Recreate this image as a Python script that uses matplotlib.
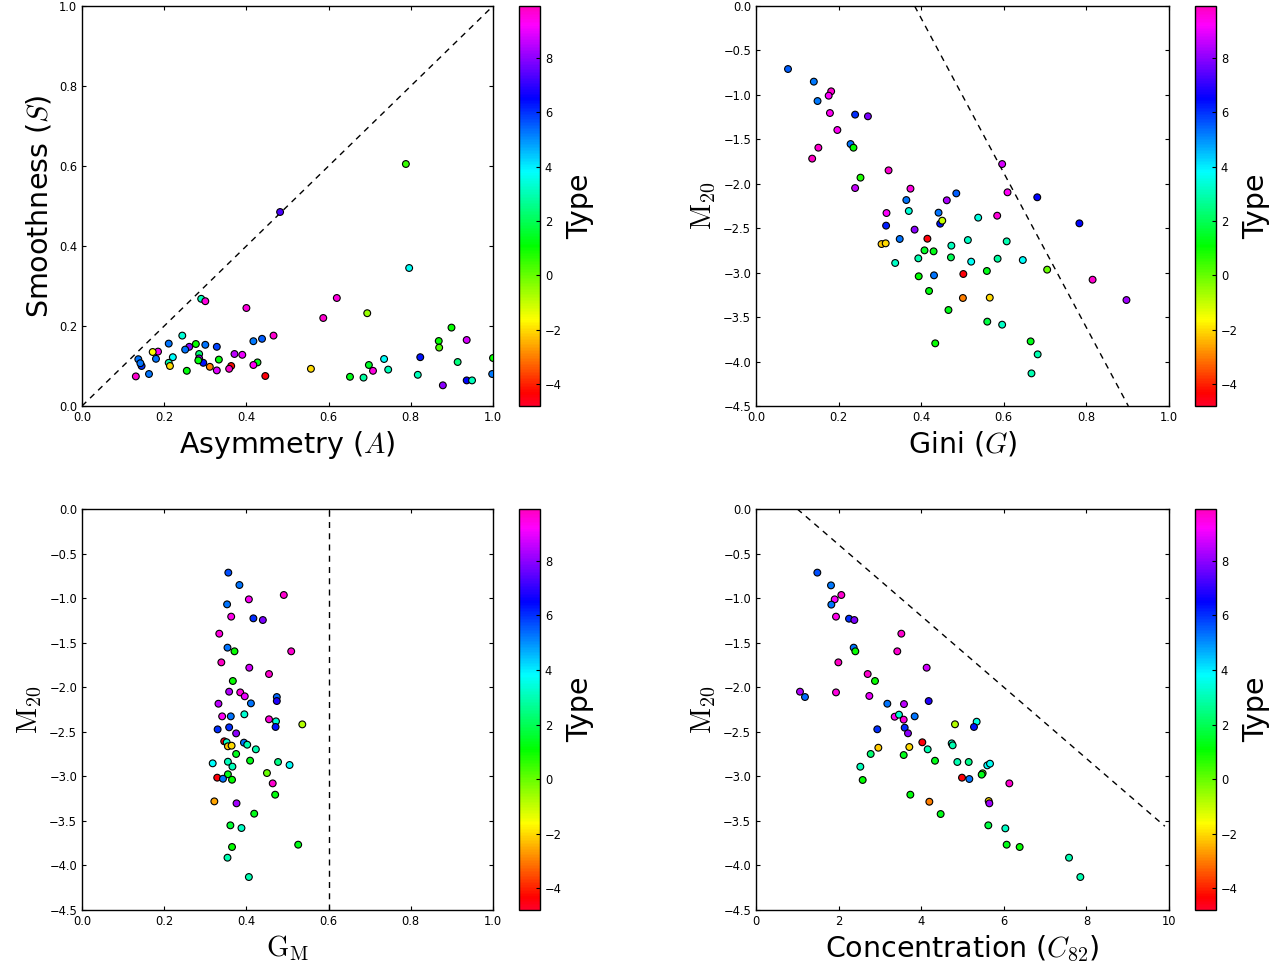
import matplotlib
matplotlib.use('Agg')
from matplotlib import pyplot as plt
import numpy

plt.rcParams['mathtext.fontset'] = 'cm'
plt.rcParams['xtick.direction'] = 'in'
plt.rcParams['ytick.direction'] = 'in'
plt.rcParams['xtick.top'] = True
plt.rcParams['ytick.right'] = True
plt.rcParams['xtick.major.size'] = 3.2
plt.rcParams['ytick.major.size'] = 3.2
plt.rcParams['xtick.labelsize'] = 8.3
plt.rcParams['ytick.labelsize'] = 8.3
plt.rcParams['axes.linewidth'] = 1.0

# asymmetry / smoothness
asym = [0.29, 0.30, 0.40, 0.62, 0.587, 0.694, 0.899, 0.868, 0.869, 0.936,
        1.0, 0.914, 0.823, 0.817, 0.878, 0.936, 0.949, 0.998, 0.735, 0.745,
        0.698, 0.708, 0.685, 0.652, 0.557, 0.466, 0.438, 0.417, 0.427, 0.417,
        0.446, 0.39, 0.371, 0.363, 0.358, 0.328, 0.333, 0.328, 0.311, 0.30,
        0.295, 0.285, 0.285, 0.283, 0.277, 0.261, 0.251, 0.244, 0.255, 0.221,
        0.211, 0.214, 0.211, 0.185, 0.172, 0.18, 0.163, 0.137, 0.145, 0.142,
        0.131, 0.788, 0.796, 0.482]
smooth = [0.268, 0.262, 0.245, 0.27, 0.22, 0.232, 0.196, 0.1625, 0.146, 0.165,
          0.12, 0.11, 0.122, 0.078, 0.0517, 0.064, 0.064, 0.08, 0.1175, 0.091,
          0.1025, 0.088, 0.071, 0.073, 0.093, 0.176, 0.168, 0.162, 0.109, 0.1025,
          0.075, 0.128, 0.13, 0.10, 0.093, 0.148, 0.116, 0.089, 0.098, 0.153,
          0.108, 0.13, 0.119, 0.114, 0.155, 0.148, 0.141, 0.176, 0.088, 0.122,
          0.108, 0.10, 0.156, 0.136, 0.135, 0.118, 0.08, 0.117, 0.10, 0.107,
          0.074, 0.605, 0.345, 0.485]
type_as = [3.1, 9.5, 9.5, 9.5, 9.7, -0.5, 1.0, 1.0, 0.3, 8.8,
           1.0, 2.4, 6.3, 3.1, 8.0, 6.5, 3.1, 5.2, 3.8, 3.1,
           1.5, 9.5, 2.8, 1.3, -2.0, 9.7, 5.5, 5.2, 1.3, 9.3,
           -4.4, 9.0, 8.5, -4.2, 9.7, 5.8, 1.2, 8.9, -3.0, 5.3,
           6.3, 2.3, 8.2, 1.2, 1.0, 8.0, 5.3, 3.4, 1.2, 3.8,
           3.0, -2.0, 5.3, 9.3, -1.6, 5.3, 5.3, 5.3, 6.0, 5.3,
           9.7, 0.5, 3.7, 7.3]

# gini / M20
gini = [0.0775, 0.140, 0.149, 0.182, 0.176, 0.179, 0.240, 0.271, 0.197, 0.229,
        0.236, 0.151, 0.136, 0.321, 0.253, 0.240, 0.374, 0.364, 0.485, 0.462,
        0.596, 0.609, 0.681, 0.783, 0.370, 0.316, 0.442, 0.446, 0.451, 0.584,
        0.538, 0.315, 0.384, 0.415, 0.348, 0.304, 0.314, 0.513, 0.607, 0.473,
        0.408, 0.430, 0.337, 0.393, 0.472, 0.521, 0.585, 0.646, 0.705, 0.559,
        0.502, 0.431, 0.394, 0.815, 0.419, 0.501, 0.566, 0.897, 0.466, 0.560,
        0.596, 0.434, 0.665, 0.682, 0.667]
m20_g = [-0.709, -0.851, -1.069, -0.96, -1.009, -1.204, -1.222, -1.241, -1.395, -1.553,
         -1.594, -1.594, -1.717, -1.849, -1.931, -2.048, -2.055, -2.183, -2.108, -2.186,
         -1.778, -2.096, -2.152, -2.445, -2.306, -2.329, -2.325, -2.449, -2.415, -2.359,
         -2.381, -2.471, -2.516, -2.618, -2.621, -2.678, -2.67, -2.633, -2.648, -2.696,
         -2.749, -2.760, -2.891, -2.839, -2.828, -2.876, -2.843, -2.858, -2.966, -2.981,
         -3.015, -3.03, -3.041, -3.079, -3.206, -3.285, -3.281, -3.308, -3.42, -3.551,
         -3.585, -3.795, -3.773, -3.919, -4.133]
type_g = [5.5, 5.2, 5.2, 9.7, 9.2, 9.3, 6.0, 7.8, 9.3, 5.3,
          1.0, 9.7, 9.8, 9.7, 0.8, 8.6, 9.5, 5.3, 5.5, 8.3,
          8.8, 9.3, 6.5, 6.5, 3.4, 9.2, 5.3, 6.3, -1.0, 9.6,
          3.5, 6.2, 8.0, -4.4, 5.3, -2.2, -2.0, 3.2, 3.0, 3.1,
          1.5, 1.3, 3.2, 3.0, 2.0, 3.7, 2.8, 3.8, 0.0, 1.3,
          -4.4, 5.3, 1.1, 9.7, 1.2, -3.0, -2.0, 8.2, 1.3, 1.8,
          3.2, 1.0, 1.3, 3.0, 3.0]

# G_M / M20
gm = [0.356, 0.383, 0.491, 0.406, 0.353, 0.363, 0.417, 0.44, 0.334, 0.354,
      0.371, 0.509, 0.339, 0.407, 0.455, 0.367, 0.358, 0.385, 0.396, 0.474,
      0.474, 0.332, 0.411, 0.341, 0.362, 0.395, 0.455, 0.472, 0.471, 0.536,
      0.330, 0.358, 0.375, 0.346, 0.352, 0.355, 0.364, 0.394, 0.402, 0.423,
      0.375, 0.409, 0.477, 0.318, 0.355, 0.366, 0.505, 0.45, 0.355, 0.329,
      0.343, 0.365, 0.464, 0.47, 0.322, 0.376, 0.419, 0.361, 0.388, 0.365,
      0.526, 0.354, 0.406]
m20_gm = [-0.714, -0.853, -0.965, -1.014, -1.07, -1.208, -1.227, -1.246, -1.399, -1.556,
          -1.597, -1.597, -1.721, -1.781, -1.852, -1.93, -2.05, -2.058, -2.102, -2.11,
          -2.155, -2.185, -2.181, -2.327, -2.327, -2.304, -2.36, -2.383, -2.446, -2.417,
          -2.473, -2.45, -2.518, -2.607, -2.618, -2.663, -2.656, -2.622, -2.645, -2.697,
          -2.749, -2.824, -2.839, -2.854, -2.836, -2.891, -2.873, -2.963, -2.977, -3.015,
          -3.027, -3.038, -3.079, -3.206, -3.281, -3.303, -3.419, -3.55, -3.58, -3.793,
          -3.767, -3.913, -4.13]
type_gm = [5.7, 5.3, 9.7, 9.3, 5.3, 9.4, 6.0, 7.8, 9.5, 5.3,
           1.0, 9.7, 9.8, 8.7, 9.7, 1.0, 8.4, 9.5, 9.0, 5.4,
           6.8, 8.5, 5.3, 9.3, 5.3, 3.3, 9.6, 3.3, 6.3, -0.8,
           6.0, 6.0, 8.0, -4.4, 3.2, -2.2, -2.0, 5.3, 3.0, 3.0,
           1.4, 1.3, 2.5, 3.8, 3.1, 3.1, 3.8, 0.0, 1.3, -4.4,
           5.3, 1.1, 9.7, 1.2, -2.6, 8.2, 1.3, 1.6, 3.2, 1.0,
           1.3, 3.0, 3.0]

# concentration / M20
conc = [1.485, 1.816, 2.066, 1.905, 1.824, 1.937, 2.252, 2.381, 3.519, 2.365,
        2.405, 3.421, 1.994, 4.132, 2.704, 2.881, 1.065, 1.186, 1.937, 2.744,
        4.181, 3.18, 3.583, 3.358, 3.462, 3.842, 3.576, 5.343, 5.278, 4.818,
        2.937, 3.6, 3.68, 4.027, 4.738, 4.762, 3.712, 2.962, 4.157, 2.777,
        3.576, 4.334, 4.875, 5.15, 5.6, 5.666, 2.526, 5.488, 5.464, 4.988,
        5.165, 2.583, 6.134, 3.737, 4.197, 5.634, 5.65, 4.471, 5.625, 6.037,
        6.069, 6.384, 7.579, 7.853]
m20_c = [-0.714, -0.857, -0.965, -1.014, -1.073, -1.208, -1.231, -1.246, -1.399, -1.556,
         -1.597, -1.597, -1.721, -1.781, -1.852, -1.93, -2.05, -2.11, -2.058, -2.098,
         -2.155, -2.185, -2.189, -2.331, -2.308, -2.327, -2.364, -2.387, -2.446, -2.416,
         -2.472, -2.454, -2.517, -2.618, -2.63, -2.652, -2.671, -2.679, -2.697, -2.749,
         -2.761, -2.825, -2.839, -2.839, -2.877, -2.858, -2.892, -2.966, -2.981, -3.015,
         -3.03, -3.041, -3.079, -3.206, -3.285, -3.277, -3.303, -3.423, -3.55, -3.584,
         -3.767, -3.793, -3.913, -4.13]
type_c = [5.7, 5.2, 9.7, 9.2, 5.3, 9.4, 6.0, 7.8, 9.7, 5.3,
          1.0, 9.7, 9.8, 8.7, 9.7, 1.0, 8.4, 5.4, 9.5, 9.0,
          6.8, 5.3, 8.5, 9.3, 3.3, 5.3, 9.6, 3.5, 6.3, -0.8,
          6.0, 6.0, 8.0, -4.4, 3.2, 3.0, -2.0, -2.2, 3.0, 2.3,
          1.4, 1.3, 3.0, 2.6, 3.8, 3.7, 3.1, 0.0, 1.3, -4.4,
          5.3, 1.1, 9.7, 1.2, -3.0, -2.0, 8.2, 1.3, 1.8, 3.2,
          1.3, 1.0, 3.0, 3.0]

type_min, type_max = -4.8, 9.9
cb_ticks = [-4, -2, 0, 2, 4, 6, 8]

W, H = 1286.0, 967.0
dash = (0, (4.3, 3.8))


def box(x0, x1, y0, y1):
    # pixel edges -> figure fraction rect
    return [x0 / W, 1 - y1 / H, (x1 - x0) / W, (y1 - y0) / H]


def panel(fig, rect, cbrect, x, y, t):
    ax = fig.add_axes(rect)
    sc = ax.scatter(x, y, c=t, cmap='gist_rainbow', vmin=type_min, vmax=type_max,
                    s=24, edgecolors='black', linewidths=0.8, zorder=3)
    cax = fig.add_axes(cbrect)
    cb = fig.colorbar(sc, cax=cax, ticks=cb_ticks)
    cb.ax.tick_params(direction='in', length=3.2, labelsize=8.3)
    cb.set_label('Type', fontsize=20.5, labelpad=3)
    return ax


fig = plt.figure(figsize=(12.86, 9.67), dpi=100)

ax1 = panel(fig, box(82, 493, 6, 406), box(519, 540, 6, 406), asym, smooth, type_as)
ax1.plot([0, 1], [0, 1], color='black', linestyle=dash, lw=1.0)
ax1.set_xlim(0, 1)
ax1.set_ylim(0, 1)
ax1.set_xlabel('Asymmetry ($A$)', fontsize=20.5)
ax1.set_ylabel('Smoothness ($S$)', fontsize=20.5)

ax2 = panel(fig, box(756, 1169, 6, 406), box(1195, 1216, 6, 406), gini, m20_g, type_g)
mm = numpy.array([0.0, -4.5])
ax2.plot(0.384 - 0.115 * mm, mm, color='black', linestyle=dash, lw=1.0)
ax2.set_xlim(0, 1)
ax2.set_ylim(-4.5, 0)
ax2.set_xlabel('Gini ($G$)', fontsize=20.5)
ax2.set_ylabel(r'$\mathrm{M_{20}}$', fontsize=20.5)

ax3 = panel(fig, box(82, 493, 509, 910), box(519, 540, 509, 910), gm, m20_gm, type_gm)
ax3.plot([0.6, 0.6], [-4.5, 0], color='black', linestyle=dash, lw=1.0)
ax3.set_xlim(0, 1)
ax3.set_ylim(-4.5, 0)
ax3.set_xlabel(r'$\mathrm{G_M}$', fontsize=20.5)
ax3.set_ylabel(r'$\mathrm{M_{20}}$', fontsize=20.5)

ax4 = panel(fig, box(756, 1169, 509, 910), box(1195, 1216, 509, 910), conc, m20_c, type_c)
cc = numpy.array([1.0, 9.9])
ax4.plot(cc, 0.4 - 0.4 * cc, color='black', linestyle=dash, lw=1.0)
ax4.set_xlim(0, 10)
ax4.set_ylim(-4.5, 0)
ax4.set_xlabel('Concentration ($C_{82}$)', fontsize=20.5)
ax4.set_ylabel(r'$\mathrm{M_{20}}$', fontsize=20.5)

for ax in (ax1, ax2, ax3, ax4):
    ax.tick_params(length=3.2)

fig.savefig('out.png', dpi=100)
